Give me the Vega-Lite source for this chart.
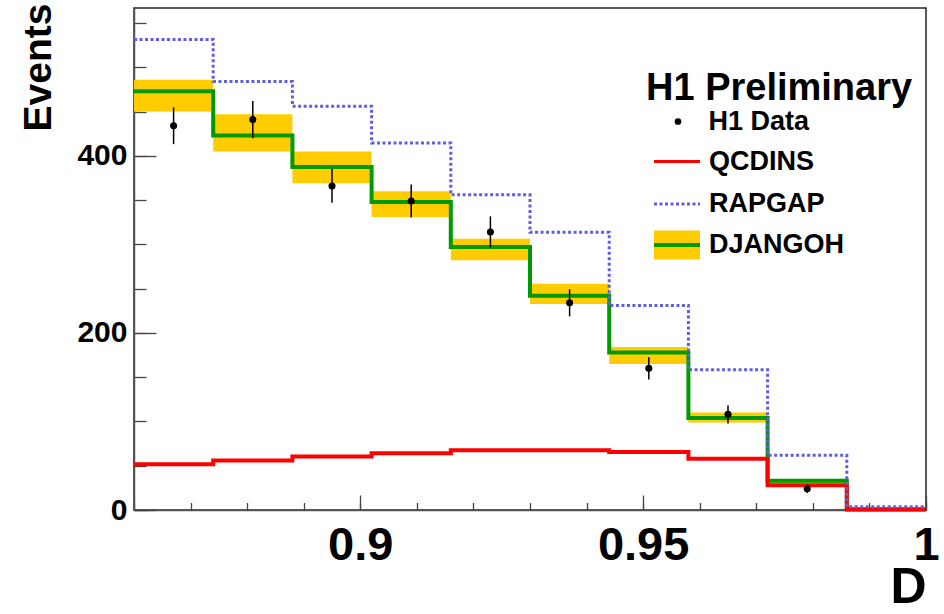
{
  "$schema": "https://vega.github.io/schema/vega-lite/v6.json",
  "width": 792,
  "height": 502,
  "autosize": {"type": "none"},
  "padding": {"left": 134, "top": 8, "right": 18, "bottom": 104},
  "background": "white",
  "config": {
    "view": {"stroke": "#222", "strokeWidth": 1.5},
    "axis": {"labelFont": "Liberation Sans", "titleFont": "Liberation Sans", "labelFontWeight": "bold", "titleFontWeight": "bold", "labelColor": "black", "titleColor": "black", "domainColor": "#555", "domainWidth": 1.5, "tickColor": "#444", "tickWidth": 1.3, "grid": false},
    "legend": {"labelFont": "Liberation Sans", "labelFontWeight": "bold", "labelFontSize": 27, "labelColor": "black", "titleFont": "Liberation Sans", "titleFontWeight": "bold", "titleFontSize": 38, "titleColor": "black", "padding": 0, "orient": "none", "titleLimit": 500, "labelLimit": 300}
  },
  "data": {"values": [
    {"bin": 1, "x0": 0.860, "x1": 0.874, "xc": 0.867, "data": 434, "err": 20.8, "dj": 473, "dj_lo": 450, "dj_hi": 486, "rap": 531.5, "qcd": 51.7},
    {"bin": 2, "x0": 0.874, "x1": 0.888, "xc": 0.881, "data": 441, "err": 21, "dj": 423, "dj_lo": 405, "dj_hi": 447, "rap": 484, "qcd": 55.8},
    {"bin": 3, "x0": 0.888, "x1": 0.902, "xc": 0.895, "data": 366, "err": 19.1, "dj": 387.5, "dj_lo": 369, "dj_hi": 405, "rap": 456, "qcd": 60.3},
    {"bin": 4, "x0": 0.902, "x1": 0.916, "xc": 0.909, "data": 349, "err": 18.7, "dj": 348, "dj_lo": 331, "dj_hi": 360, "rap": 414.6, "qcd": 64},
    {"bin": 5, "x0": 0.916, "x1": 0.930, "xc": 0.923, "data": 314, "err": 17.7, "dj": 297, "dj_lo": 282, "dj_hi": 306.5, "rap": 356, "qcd": 67.5},
    {"bin": 6, "x0": 0.930, "x1": 0.944, "xc": 0.937, "data": 234, "err": 15.3, "dj": 242, "dj_lo": 232.6, "dj_hi": 255.6, "rap": 313.6, "qcd": 67.5},
    {"bin": 7, "x0": 0.944, "x1": 0.958, "xc": 0.951, "data": 160, "err": 12.6, "dj": 178, "dj_lo": 165, "dj_hi": 184, "rap": 231, "qcd": 65.6},
    {"bin": 8, "x0": 0.958, "x1": 0.972, "xc": 0.965, "data": 108, "err": 10.4, "dj": 104, "dj_lo": 98.7, "dj_hi": 110, "rap": 158.3, "qcd": 58},
    {"bin": 9, "x0": 0.972, "x1": 0.986, "xc": 0.979, "data": 24, "err": 4.9, "dj": 33, "dj_lo": 30, "dj_hi": 35, "rap": 61.8, "qcd": 28},
    {"bin": 10, "x0": 0.986, "x1": 1.0, "xc": 0.993, "data": null, "err": null, "dj": 0.8, "dj_lo": 0, "dj_hi": 1.5, "rap": 3.7, "qcd": 0.5}
  ]},
  "layer": [
    {
      "mark": {"type": "rect"},
      "encoding": {
        "x": {"field": "x0", "type": "quantitative", "scale": {"domain": [0.86, 1.0], "nice": false, "zero": false},
          "axis": {"orient": "bottom", "values": [0.9, 0.95, 1.0], "format": "~g", "tickSize": -15, "labelFontSize": 47, "labelPadding": 27, "labelFlush": false, "labelOverlap": false,
            "title": "D", "titleFontSize": 50, "titleAnchor": "end", "titleAlign": "right", "titleBaseline": "alphabetic", "titleX": 792, "titleY": 92}},
        "x2": {"field": "x1"},
        "y": {"field": "dj_lo", "type": "quantitative", "scale": {"domain": [0, 567], "nice": false},
          "axis": {"orient": "left", "values": [0, 200, 400], "tickSize": -22, "labelFontSize": 30, "labelPadding": 29,
            "title": "Events", "titleFontSize": 39, "titleAngle": -90, "titleAlign": "right", "titleBaseline": "alphabetic", "titleAnchor": "end", "titleX": -84, "titleY": -5}},
        "y2": {"field": "dj_hi"},
        "color": {"datum": "DJANGOH", "scale": {"domain": ["DJANGOH"], "range": ["#ffcc00"]},
          "legend": {"title": null, "legendX": 518, "legendY": 212, "symbolType": "M-1,-0.63H1V0.63H-1Z", "symbolSize": 2116, "symbolStrokeWidth": 4, "symbolStrokeColor": "transparent", "labelOffset": 7}}
      }
    },
    {
      "transform": [{"fold": ["x0", "x1"], "as": ["edge", "x"]}],
      "mark": {"type": "line", "strokeWidth": 4},
      "encoding": {
        "x": {"field": "x", "type": "quantitative", "scale": {"domain": [0.86, 1.0], "nice": false, "zero": false},
          "axis": {"orient": "bottom", "values": [0.86, 0.87, 0.88, 0.89, 0.9, 0.91, 0.92, 0.93, 0.94, 0.95, 0.96, 0.97, 0.98, 0.99, 1.0], "tickSize": -7.5, "labels": false, "domain": false, "title": null}},
        "y": {"field": "dj", "type": "quantitative", "scale": {"domain": [0, 567], "nice": false},
          "axis": {"orient": "left", "values": [0, 50, 100, 150, 200, 250, 300, 350, 400, 450, 500, 550], "tickSize": -12, "labels": false, "domain": false, "title": null}},
        "order": [{"field": "bin"}, {"field": "edge"}],
        "color": {"datum": "DJANGOH", "scale": {"domain": ["DJANGOH"], "range": ["#009900"]},
          "legend": {"title": null, "legendX": 518, "legendY": 212, "symbolType": "stroke", "symbolSize": 2116, "symbolStrokeWidth": 4, "labelOpacity": 0, "labelOffset": 7}}
      }
    },
    {
      "transform": [{"fold": ["x0", "x1"], "as": ["edge", "x"]}],
      "mark": {"type": "line", "strokeWidth": 4},
      "encoding": {
        "x": {"field": "x", "type": "quantitative", "scale": {"domain": [0.86, 1.0], "nice": false, "zero": false}, "axis": null},
        "y": {"field": "qcd", "type": "quantitative", "scale": {"domain": [0, 567], "nice": false}, "axis": null},
        "order": [{"field": "bin"}, {"field": "edge"}],
        "color": {"datum": "QCDINS", "scale": {"domain": ["QCDINS"], "range": ["#ff0000"]},
          "legend": {"title": null, "legendX": 518.5, "legendY": 129, "symbolType": "stroke", "symbolSize": 2116, "symbolStrokeWidth": 3, "labelOffset": 7.5}}
      }
    },
    {
      "transform": [{"fold": ["x0", "x1"], "as": ["edge", "x"]}],
      "mark": {"type": "line", "strokeWidth": 3, "strokeDash": [3, 2.5]},
      "encoding": {
        "x": {"field": "x", "type": "quantitative", "scale": {"domain": [0.86, 1.0], "nice": false, "zero": false}, "axis": null},
        "y": {"field": "rap", "type": "quantitative", "scale": {"domain": [0, 567], "nice": false}, "axis": null},
        "order": [{"field": "bin"}, {"field": "edge"}],
        "color": {"datum": "RAPGAP", "scale": {"domain": ["RAPGAP"], "range": ["#5f5fdf"]},
          "legend": {"title": null, "legendX": 518.5, "legendY": 171.5, "symbolType": "stroke", "symbolSize": 2116, "symbolStrokeWidth": 3, "symbolDash": [3, 2.5], "labelOffset": 7.5}}
      }
    },
    {
      "transform": [{"filter": "datum.data != null"}],
      "mark": {"type": "errorbar", "color": "black", "thickness": 1.5},
      "encoding": {
        "x": {"field": "xc", "type": "quantitative", "scale": {"domain": [0.86, 1.0], "nice": false, "zero": false}, "axis": null},
        "y": {"field": "data", "type": "quantitative", "scale": {"domain": [0, 567], "nice": false}, "axis": null},
        "yError": {"field": "err"}
      }
    },
    {
      "transform": [{"filter": "datum.data != null"}],
      "mark": {"type": "point", "filled": true, "size": 50, "opacity": 1},
      "encoding": {
        "x": {"field": "xc", "type": "quantitative", "scale": {"domain": [0.86, 1.0], "nice": false, "zero": false}, "axis": null},
        "y": {"field": "data", "type": "quantitative", "scale": {"domain": [0, 567], "nice": false}, "axis": null},
        "color": {"datum": "H1 Data", "scale": {"domain": ["H1 Data"], "range": ["black"]},
          "legend": {"title": "H1 Preliminary", "titlePadding": 0, "legendX": 512, "legendY": 62, "symbolType": "circle", "symbolSize": 45, "symbolStrokeWidth": 0, "symbolOffset": 18.5, "labelOffset": 17}}
      }
    }
  ],
  "resolve": {"scale": {"color": "independent"}, "axis": {"x": "independent", "y": "independent"}}
}
